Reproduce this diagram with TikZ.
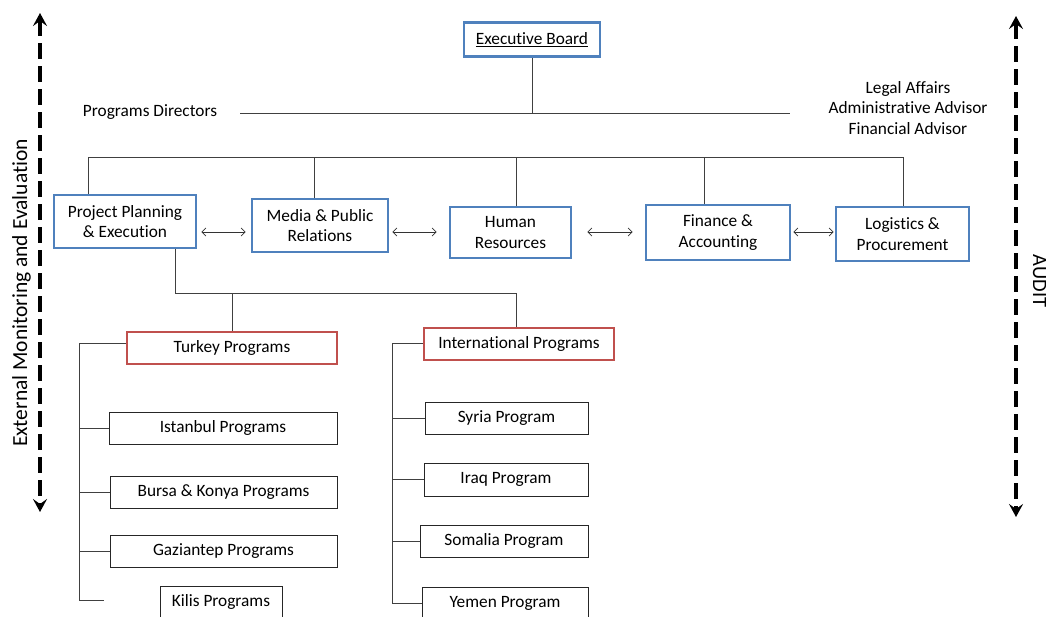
\documentclass[tikz,border=0pt]{standalone}
\usepackage{fontspec}
\setmainfont{Carlito}[Ligatures={NoCommon}]
\usetikzlibrary{arrows.meta}
\definecolor{bblue}{HTML}{4F81BD}
\definecolor{rred}{HTML}{C0504D}
\begin{document}
\begin{tikzpicture}[x=1pt,y=-1pt,
  every node/.style={font=\fontsize{17.3}{20.5}\selectfont},
  bluebox/.style={draw=bblue, line width=2.6pt, align=center, inner sep=0pt},
  redbox/.style={draw=rred, line width=2.4pt, align=center, inner sep=0pt},
  progbox/.style={draw=black!85, line width=0.9pt, align=center, inner sep=0pt},
  conn/.style={draw=black!75, line width=0.9pt},
  dbl/.style={draw=black!80, line width=0.8pt, {Straight Barb[length=4pt,width=8pt]}-{Straight Barb[length=4pt,width=8pt]}},
  side/.style={line width=3.6pt, dash pattern=on 16pt off 7pt,
     {Stealth[length=13pt,width=14pt,inset=5pt]}-{Stealth[length=13pt,width=14pt,inset=5pt]}},
  sidetext/.style={font=\fontsize{21.5}{25}\selectfont, inner sep=0pt}
]
\useasboundingbox (0,0) rectangle (1046,616);

% Executive board and advisors
\node[bluebox, minimum width=136pt, minimum height=34pt] (eb) at (532,39.5) {\underline{Executive Board}};
\node (pdir) at (150,112) {Programs Directors};
\node[align=center, font=\fontsize{17.3}{20.5}\selectfont] (adv) at (908,108) {Legal Affairs\\Administrative Advisor\\Financial Advisor};
\coordinate (pdl) at (240,113);
\coordinate (pdr) at (790,113);
\draw[conn] (pdl) -- (pdr);
\draw[conn] (eb.south) -- (eb.south |- pdl);

% Departments
\node[bluebox, minimum width=142pt, minimum height=53pt] (ppe) at (125,221.5) {Project Planning\\\& Execution};
\node[bluebox, minimum width=136pt, minimum height=53pt] (media) at (320,225.5) {Media \& Public\\Relations};
\node[bluebox, minimum width=121pt, minimum height=51pt] (hr) at (510.5,232.5) {Human\\Resources};
\node[bluebox, minimum width=144pt, minimum height=55pt] (fin) at (718,232.5) {Finance \&\\Accounting};
\node[bluebox, minimum width=133pt, minimum height=54pt] (log) at (902.5,234) {Logistics \&\\Procurement};

\coordinate (b1) at (88,157);
\coordinate (b2) at (314,157);
\coordinate (b3) at (516,157);
\coordinate (b4) at (704,157);
\coordinate (b5) at (903,157);
\draw[conn] (b1) -- (b5);
\draw[conn] (b1) -- (b1 |- ppe.north);
\draw[conn] (b2) -- (b2 |- media.north);
\draw[conn] (b3) -- (b3 |- hr.north);
\draw[conn] (b4) -- (b4 |- fin.north);
\draw[conn] (b5) -- (b5 |- log.north);

\coordinate (a1) at (0,232);
\draw[dbl] ([xshift=4pt]ppe.east |- a1) -- ([xshift=-5pt]media.west |- a1);
\draw[dbl] ([xshift=3pt]media.east |- a1) -- ([xshift=-12pt]hr.west |- a1);
\draw[dbl] ([xshift=15pt]hr.east |- a1) -- ([xshift=-12pt]fin.west |- a1);
\draw[dbl] ([xshift=2pt]fin.east |- a1) -- ([xshift=-1pt]log.west |- a1);

% Program groups
\node[redbox, minimum width=210pt, minimum height=32pt] (tur) at (232,348) {Turkey Programs};
\node[redbox, minimum width=190pt, minimum height=32pt] (intl) at (519,344) {International Programs};

\coordinate (t0) at (175,293);
\coordinate (t1) at (516,293);
\coordinate (t2) at (232,293);
\draw[conn] (t0 |- ppe.south) -- (t0) -- (t1) -- (t1 |- intl.north);
\draw[conn] (t2) -- (t2 |- tur.north);

% Turkey programs
\node[progbox, minimum width=228pt, minimum height=32pt] (ist) at (223,428) {Istanbul Programs};
\node[progbox, minimum width=227pt, minimum height=32pt] (bur) at (223.5,492) {Bursa \& Konya Programs};
\node[progbox, minimum width=227pt, minimum height=32pt] (gaz) at (223.5,551) {Gaziantep Programs};
\node[progbox, minimum width=122pt, minimum height=32pt] (kil) at (221,602) {Kilis Programs};

\coordinate (tk) at (79,343);
\coordinate (tkb) at (79,600);
\coordinate (kend) at (104,600);
\draw[conn] (tur.west |- tk) -- (tk) -- (tkb) -- (kend);
\draw[conn] (tk |- ist.west) -- (ist.west);
\draw[conn] (tk |- bur.west) -- (bur.west);
\draw[conn] (tk |- gaz.west) -- (gaz.west);

% International programs
\node[progbox, minimum width=163pt, minimum height=32pt] (syr) at (506.5,418) {Syria Program};
\node[progbox, minimum width=164pt, minimum height=33pt] (irq) at (506,479.5) {Iraq Program};
\node[progbox, minimum width=168pt, minimum height=32pt] (som) at (504,541) {Somalia Program};
\node[progbox, minimum width=166pt, minimum height=32pt] (yem) at (505,603) {Yemen Program};

\coordinate (ik) at (392,343);
\coordinate (ikb) at (392,603);
\draw[conn] (intl.west |- ik) -- (ik) -- (ikb) -- (yem.west |- ikb);
\draw[conn] (ik |- syr.west) -- (syr.west);
\draw[conn] (ik |- irq.west) -- (irq.west);
\draw[conn] (ik |- som.west) -- (som.west);

% Side arrows
\coordinate (lt) at (40,13);
\coordinate (lb) at (40,512);
\draw[side] (lt) -- (lb);
\node[sidetext, rotate=90] (emev) at (21.5,293) {External Monitoring and Evaluation};
\coordinate (rt) at (1016,16);
\coordinate (rb) at (1016,517);
\draw[side] (rt) -- (rb);
\node[sidetext, font=\fontsize{20.5}{24}\selectfont, rotate=-90] (audit) at (1039.5,281) {AUDIT};
\end{tikzpicture}
\end{document}
